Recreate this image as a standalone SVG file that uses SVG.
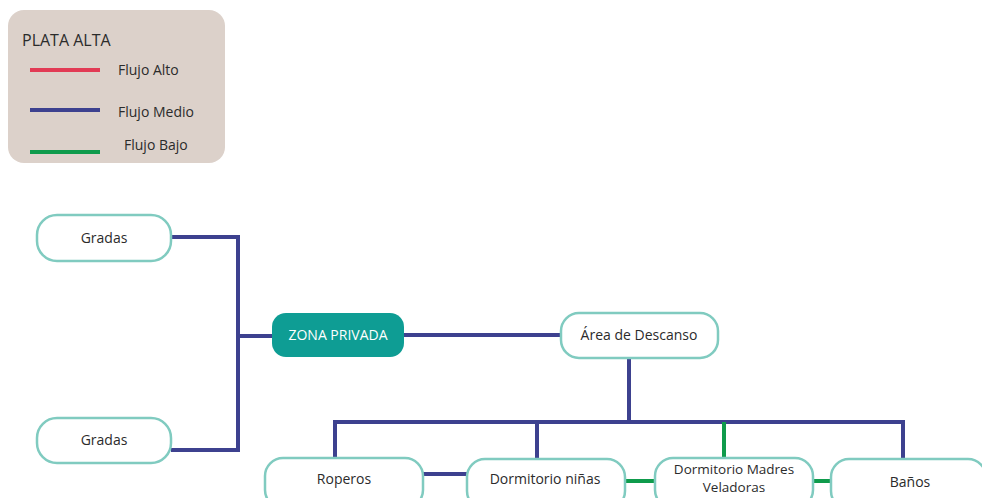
<svg xmlns="http://www.w3.org/2000/svg" width="982" height="498" viewBox="0 0 982 498">
<style>
.node{fill:#fff;stroke:#80cbc0;stroke-width:2.5}
.t{font-family:"Open Sans","Liberation Sans",sans-serif;font-size:14px;fill:#2b2b2b;text-anchor:middle}
.lg{font-family:"Open Sans","Liberation Sans",sans-serif;font-size:14px;fill:#2b2b2b}
.b{stroke:#3d418f;stroke-width:4;fill:none}
.g{stroke:#0f9b4c;stroke-width:4;fill:none}
.r{stroke:#e23b55;stroke-width:4;fill:none}
</style>
<rect width="982" height="498" fill="#fff"/>
<g id="legend">
<rect x="8" y="10" width="217" height="153" rx="16" fill="#dcd1ca"/>
<text x="22" y="46" class="lg" style="font-size:16px">PLATA ALTA</text>
<line x1="30" y1="70" x2="100" y2="70" class="r"/>
<line x1="30" y1="110" x2="100" y2="110" class="b"/>
<line x1="30" y1="152" x2="100" y2="152" class="g"/>
<text x="118" y="75" class="lg">Flujo Alto</text>
<text x="118" y="117" class="lg">Flujo Medio</text>
<text x="124" y="150" class="lg">Flujo Bajo</text>
</g>
<g id="connectors">
<path class="b" d="M171 237 H238 V450 H171"/>
<path class="b" d="M238 336 H272"/>
<path class="b" d="M404 335 H561"/>
<path class="b" d="M629 358 V422"/>
<path class="b" d="M335 458 V422 H903 V459"/>
<path class="b" d="M537 422 V459"/>
<path class="g" d="M724 422 V458"/>
<path class="b" d="M423 474 H467"/>
<path class="g" d="M625 481 H655"/>
<path class="g" d="M813 481 H831"/>
</g>
<g id="gradas1">
<rect x="37" y="215" width="134" height="46" rx="20" class="node"/>
<text x="104" y="243" class="t">Gradas</text>
</g>
<g id="gradas2">
<rect x="37" y="418" width="134" height="45" rx="20" class="node"/>
<text x="104" y="445" class="t">Gradas</text>
</g>
<g id="zona">
<rect x="272" y="313" width="132" height="44" rx="14" fill="#0e9d94"/>
<text x="338" y="340" class="t" style="fill:#fff">ZONA PRIVADA</text>
</g>
<g id="descanso">
<rect x="561" y="313" width="157" height="45" rx="18" class="node"/>
<text x="639" y="340" class="t">Área de Descanso</text>
</g>
<g id="roperos">
<rect x="265" y="458" width="158" height="50" rx="18" class="node"/>
<text x="344" y="484" class="t">Roperos</text>
</g>
<g id="ninas">
<rect x="467" y="459" width="158" height="50" rx="18" class="node"/>
<text x="545" y="484" class="t">Dormitorio niñas</text>
</g>
<g id="madres">
<rect x="655" y="458" width="158" height="50" rx="18" class="node"/>
<text x="734" y="474" class="t" style="font-size:13.5px">Dormitorio Madres</text>
<text x="734" y="492" class="t" style="font-size:13.5px">Veladoras</text>
</g>
<g id="banos">
<rect x="831" y="459" width="155" height="50" rx="18" class="node"/>
<text x="910" y="487" class="t">Baños</text>
</g>
</svg>
